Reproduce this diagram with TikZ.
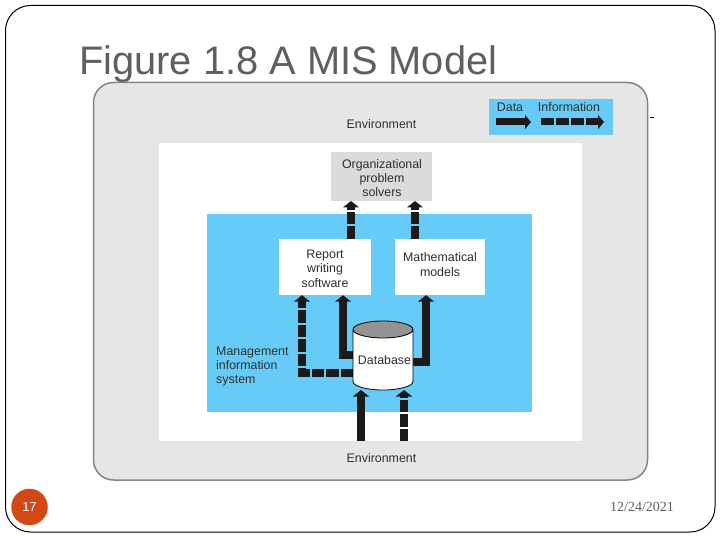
\documentclass[tikz,border=0pt]{standalone}
\usepackage{fontspec}
\setmainfont{Liberation Sans}
\newfontfamily\dateserif{Liberation Serif}
\usetikzlibrary{arrows.meta,shapes.geometric}
\definecolor{panelgrey}{HTML}{E6E6E6}
\definecolor{panelline}{HTML}{858585}
\definecolor{misblue}{HTML}{66CCF7}
\definecolor{orggrey}{HTML}{DADBDD}
\definecolor{inktext}{HTML}{2E2E2E}
\definecolor{arrowink}{HTML}{1A1A1A}
\definecolor{titlegrey}{HTML}{5F5F5F}
\definecolor{badge}{HTML}{D34817}
\tikzset{
  x=1pt,y=-1pt,
  lab/.style={font=\fontsize{12.4}{14.4}\selectfont,text=inktext,align=center,inner sep=0pt},
  solidarrow/.style={draw=arrowink,line width=7.5pt,-{Triangle[width=16pt,length=6.5pt]}},
  dasharrow/.style={solidarrow,dash pattern=on 12.5pt off 2pt},
  solidkey/.style={draw=arrowink,line width=7pt,-{Triangle[width=14pt,length=6pt]}},
  dashkey/.style={solidkey,dash pattern=on 12.5pt off 2.5pt},
}
\begin{document}
\begin{tikzpicture}
\useasboundingbox (0,0) rectangle (720,540);
\fill[white] (0,0) rectangle (720,540);
\draw[black,line width=1pt,rounded corners=25pt] (5.5,5.5) rectangle (715,532);
\node[font=\fontsize{39.8}{42}\selectfont,text=titlegrey,inner sep=0pt,anchor=base west] (title) at (79,75) {Figure 1.8 A MIS Model};
\draw[panelline,fill=panelgrey,line width=1.5pt,rounded corners=20pt] (93.5,82.5) rectangle (647.5,480);
\draw[black,line width=0.8pt] (650,117) -- (654,117);
\fill[white] (159,143) rectangle (582,441);
\fill[misblue] (207,214.5) rectangle (532,412);
\fill[misblue] (489,99) rectangle (613,135);
\node[lab] (envtop) at (381.5,124) {Environment};
\node[lab] (envbot) at (381.5,458) {Environment};
\node[lab] (keydata) at (510,107.5) {Data};
\node[lab] (keyinfo) at (569,107.5) {Information};
\coordinate (kd1) at (496,122); \coordinate (kd2) at (531,122);
\coordinate (ki1) at (541,122); \coordinate (ki2) at (604,122);
\draw[solidkey] (kd1) -- (kd2);
\draw[dashkey] (ki1) -- (ki2);
\node[fill=orggrey,minimum width=101pt,minimum height=49pt,lab] (org) at (381.5,176.5) {};
\node[lab] (orgtext) at (382,178) {Organizational\\problem\\solvers};
\node[fill=white,minimum width=92pt,minimum height=56pt,lab] (report) at (325,267) {};
\node[lab] (reporttext) at (325,268.5) {Report\\writing\\software};
\node[fill=white,minimum width=90pt,minimum height=56pt,lab] (math) at (440,267) {};
\node[lab] (mathtext) at (440,264.5) {Mathematical\\models};
\node[lab,align=left,anchor=west] (mis) at (216,366.5) {Management\\information\\system};
\coordinate (a1) at (353,373); \coordinate (a1b) at (302,373);
\coordinate (a2) at (353,355); \coordinate (a2b) at (343,355);
\coordinate (a3) at (413,362); \coordinate (a3b) at (426,362);
\coordinate (e1) at (361,441); \coordinate (e1t) at (361,390);
\coordinate (e2) at (404,441); \coordinate (e2t) at (404,390);
\coordinate (r1) at (351,239); \coordinate (r1t) at (351,201);
\coordinate (m1) at (415,239); \coordinate (m1t) at (415,201);
\draw[dasharrow] (a1) -- (a1b) -- (a1b |- report.south);
\draw[solidarrow] (a2) -- (a2b) -- (a2b |- report.south);
\draw[solidarrow] (a3) -- (a3b) -- (a3b |- math.south);
\draw[solidarrow] (e1) -- (e1t);
\draw[dasharrow] (e2) -- (e2t);
\draw[dasharrow] (r1) -- (r1t);
\draw[dasharrow] (m1) -- (m1t);
\node[cylinder,shape border rotate=90,aspect=0.32,draw=black,line width=0.8pt,cylinder uses custom fill,cylinder body fill=white,cylinder end fill=gray!85,minimum width=60pt,minimum height=69pt,outer sep=0pt,lab,anchor=shape center] (db) at (383,355.5) {\phantom{Database}};
\node[lab] (dbtext) at (384.5,360) {Database};
\node[circle,fill=badge,minimum size=36.5pt,inner sep=0pt,text=white,font=\fontsize{13}{15}\selectfont] (page) at (29.5,507) {17};
\node[font=\dateserif\fontsize{14}{16}\selectfont,text=titlegrey,inner sep=0pt] (date) at (642,506.5) {12/24/2021};
\end{tikzpicture}
\end{document}
